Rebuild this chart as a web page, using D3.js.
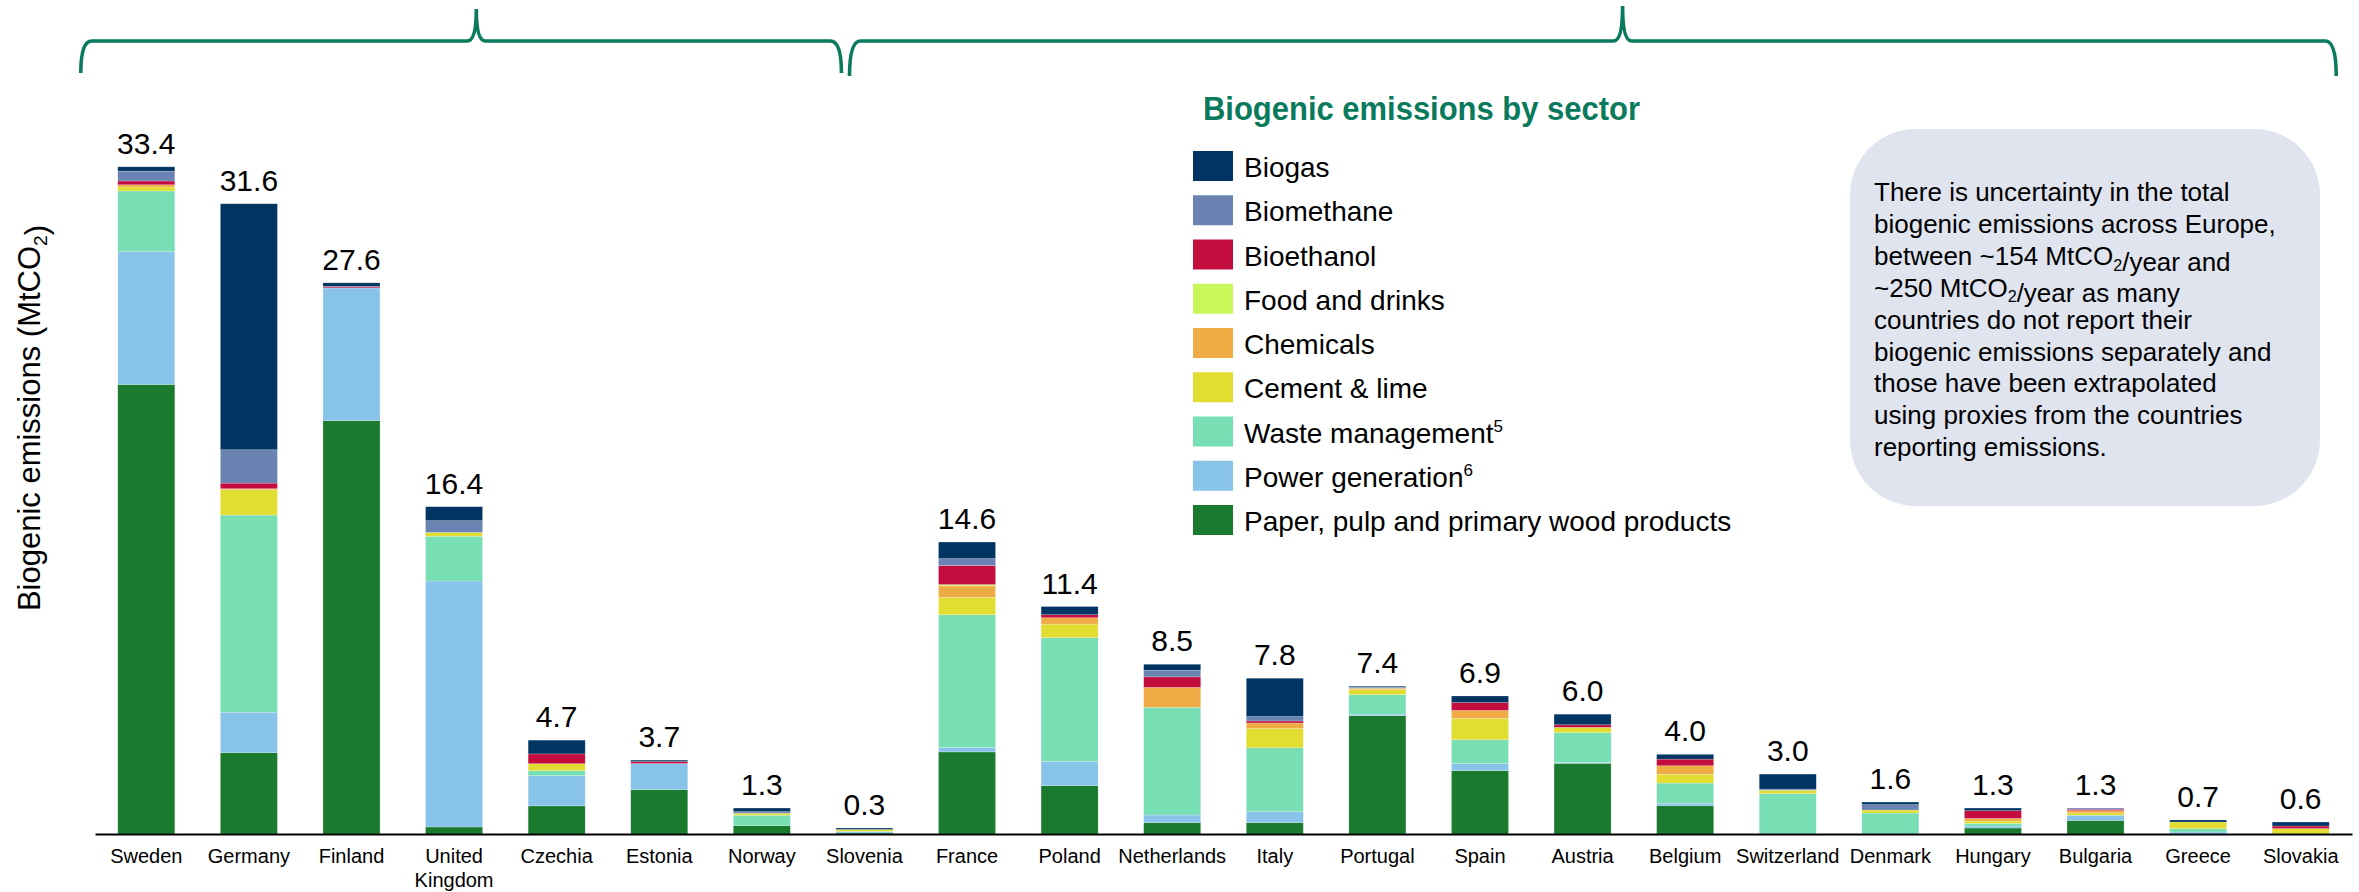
<!DOCTYPE html>
<html><head><meta charset="utf-8">
<script src="https://cdn.jsdelivr.net/npm/d3@7"></script>
<style>
body{margin:0;background:#fff}
svg{display:block}
text{font-family:"Liberation Sans",Arial,Helvetica,sans-serif;fill:#000}
</style>
</head><body>
<svg id="chart" width="2359" height="892"></svg>
<script>
// ---------- data ----------
const countries = ["Sweden","Germany","Finland","United Kingdom","Czechia","Estonia","Norway","Slovenia","France","Poland","Netherlands","Italy","Portugal","Spain","Austria","Belgium","Switzerland","Denmark","Hungary","Bulgaria","Greece","Slovakia"];
const totalLabels = ["33.4","31.6","27.6","16.4","4.7","3.7","1.3","0.3","14.6","11.4","8.5","7.8","7.4","6.9","6.0","4.0","3.0","1.6","1.3","1.3","0.7","0.6"];

const paper      = [22.51,4.07,20.70,0.35,1.41,2.22,0.42,0.05,4.11,2.42,0.57,0.57,5.93,3.17,3.54,1.42,0,0,0.30,0.68,0,0];
const power      = [6.65,2.03,6.64,12.32,1.51,1.31,0,0.08,0.22,1.22,0.38,0.55,0.07,0.37,0.05,0.12,0,0,0.10,0.26,0.10,0];
const waste      = [3.04,9.87,0,2.24,0.25,0,0.52,0,6.65,6.19,5.39,3.20,0.98,1.18,1.49,1.01,2.02,1.05,0.13,0,0.17,0];
const cement     = [0.20,1.27,0,0.19,0.35,0,0.10,0.10,0.87,0.68,0,0.97,0.25,1.07,0.26,0.44,0.17,0.15,0.12,0.12,0.33,0.27];
const chemicals  = [0.11,0.05,0,0,0,0,0,0,0.57,0.32,1.00,0.27,0.07,0.40,0,0.43,0,0,0.13,0.11,0,0];
const food       = [0,0,0,0,0,0,0,0,0.07,0,0,0,0,0,0,0,0,0,0,0,0,0];
const bioethanol = [0.19,0.28,0.05,0,0.49,0.10,0,0,0.95,0.15,0.53,0.10,0,0.39,0.13,0.33,0,0,0.39,0.07,0,0.13];
const biomethane = [0.49,1.67,0.03,0.59,0,0,0.08,0,0.35,0,0.33,0.22,0.05,0,0,0,0.06,0.27,0,0.06,0,0];
const biogas     = [0.22,12.32,0.18,0.70,0.69,0.07,0.18,0.07,0.83,0.41,0.30,1.92,0.05,0.33,0.53,0.24,0.75,0.13,0.13,0,0.10,0.20];

// stack order bottom -> top
const sectorNames  = ["Paper, pulp and primary wood products","Power generation","Waste management","Cement & lime","Chemicals","Food and drinks","Bioethanol","Biomethane","Biogas"];
const sectorValues = [paper,power,waste,cement,chemicals,food,bioethanol,biomethane,biogas];
const sectorColors = ["#1a7a2e","#88c4ea","#77dfb3","#e2dd31","#efac45","#c8f75a","#c30d3e","#6b83b2","#003462"];
const legendSup    = {"Waste management":"5","Power generation":"6"};

const legendTitle = "Biogenic emissions by sector";
const yTitle = [{t:"Biogenic emissions (MtCO"},{t:"2",sub:true},{t:")"}];
const noteLines = [
  [{t:"There is uncertainty in the total"}],
  [{t:"biogenic emissions across Europe,"}],
  [{t:"between ~154 MtCO"},{t:"2",sub:true},{t:"/year and"}],
  [{t:"~250 MtCO"},{t:"2",sub:true},{t:"/year as many"}],
  [{t:"countries do not report their"}],
  [{t:"biogenic emissions separately and"}],
  [{t:"those have been extrapolated"}],
  [{t:"using proxies from the countries"}],
  [{t:"reporting emissions."}]
];
const groupBraces = [
  {from:"Sweden", to:"Slovenia", tip:0.52},
  {from:"France", to:"Slovakia", tip:0.52}
];

// ---------- chart ----------
const svg = d3.select("#chart");
const green = "#0a7a5c";

const rows = countries.map((c,i)=>{
  const r = {country:c};
  sectorNames.forEach((s,k)=>{ r[s] = sectorValues[k][i]; });
  return r;
});
const stack = d3.stack().keys(sectorNames)(rows);
const color = d3.scaleOrdinal().domain(sectorNames).range(sectorColors);

const x = d3.scaleBand().domain(countries).range([95,2352]).paddingInner(0.444).paddingOuter(0.222);
const y = d3.scaleLinear().domain([0,33.4]).range([834,167]);

// bars
svg.append("g").selectAll("g").data(stack).join("g")
  .attr("fill", d=>color(d.key))
  .selectAll("rect").data(d=>d.filter(p=>p[1]-p[0]>0)).join("rect")
  .attr("x", d=>x(d.data.country))
  .attr("width", x.bandwidth())
  .attr("y", d=>y(d[1]))
  .attr("height", d=>y(d[0])-y(d[1]))
  .attr("stroke","#ffffff").attr("stroke-width",0.6).attr("stroke-opacity",0.35);

// totals
const tops = countries.map((c,i)=>d3.sum(sectorValues, v=>v[i]));
svg.append("g").selectAll("text").data(countries).join("text")
  .attr("x", c=>x(c)+x.bandwidth()/2)
  .attr("y", (c,i)=>y(tops[i])-13)
  .attr("text-anchor","middle")
  .attr("font-size",30)
  .text((c,i)=>totalLabels[i]);

// x axis
const ax = svg.append("g").attr("transform",`translate(0,${y(0)})`)
  .call(d3.axisBottom(x).tickSize(0).tickSizeOuter(0));
ax.select(".domain").attr("stroke","#000").attr("stroke-width",2.2);
ax.selectAll(".tick text").each(function(d){
  const t = d3.select(this);
  t.text(null).attr("y",0).attr("dy",null).attr("font-size",20).attr("fill","#000")
    .attr("font-family","'Liberation Sans',Arial,sans-serif");
  const words = d==="United Kingdom" ? ["United","Kingdom"] : [d];
  words.forEach((w,i)=>t.append("tspan").attr("x",0).attr("y",29+i*24).text(w));
});

// y title
const yt = svg.append("text").attr("transform","translate(40,418) rotate(-90)")
  .attr("text-anchor","middle").attr("font-size",31);
function addRuns(el, runs, size){
  runs.forEach(r=>{
    if(r.sub){
      el.append("tspan").attr("font-size",size*0.62).attr("dy",size*0.22).text(r.t);
      el.append("tspan").attr("dy",-size*0.22).text("");
    } else el.append("tspan").text(r.t);
  });
}
addRuns(yt, yTitle, 31);

// braces
function bracePath(x0,x1,xt,yl,ye,ytip){
  const r=11, c=9;
  return `M${x0},${ye} Q${x0},${yl} ${x0+r},${yl} L${xt-c},${yl} Q${xt},${yl} ${xt},${ytip} Q${xt},${yl} ${xt+c},${yl} L${x1-r},${yl} Q${x1},${yl} ${x1},${ye}`;
}
const braceG = svg.append("g");
groupBraces.forEach((b,i)=>{
  const x0 = i===0 ? x(b.from)-37 : x(b.from)-89;
  const x1 = i===0 ? x(b.to)+x.bandwidth()/2-23 : x(b.to)+x.bandwidth()+7;
  const xt = x0 + (x1-x0)*b.tip;
  braceG.append("path")
    .attr("d", bracePath(x0,x1,xt,41,i===0?73:76,i===0?9:6))
    .attr("fill","none").attr("stroke",green).attr("stroke-width",3.6);
});

// legend
const lg = svg.append("g");
lg.append("text").attr("x",1203).attr("y",120)
  .attr("font-family","Lato,'Open Sans',sans-serif").attr("font-weight",700)
  .attr("font-size",33).attr("textLength",437).attr("lengthAdjust","spacingAndGlyphs")
  .style("fill",green).text(legendTitle);
const legendOrder = sectorNames.slice().reverse();
const li = lg.selectAll("g.item").data(legendOrder).join("g").attr("class","item")
  .attr("transform",(d,i)=>`translate(1193,${151+i*44.25})`);
li.append("rect").attr("width",40).attr("height",30).attr("fill",d=>color(d));
li.each(function(d){
  const t = d3.select(this).append("text").attr("x",51).attr("y",26).attr("font-size",28);
  t.append("tspan").text(d);
  if(legendSup[d]) t.append("tspan").attr("font-size",17).attr("dy",-11).text(legendSup[d]);
});

// note box
const nb = svg.append("g");
nb.append("rect").attr("x",1850).attr("y",129).attr("width",470).attr("height",377)
  .attr("rx",66).attr("ry",66).attr("fill","#dfe4ef");
noteLines.forEach((runs,i)=>{
  const t = nb.append("text").attr("x",1874).attr("y",201+i*31.9).attr("font-size",26);
  addRuns(t, runs, 26);
});
</script>
</body></html>
